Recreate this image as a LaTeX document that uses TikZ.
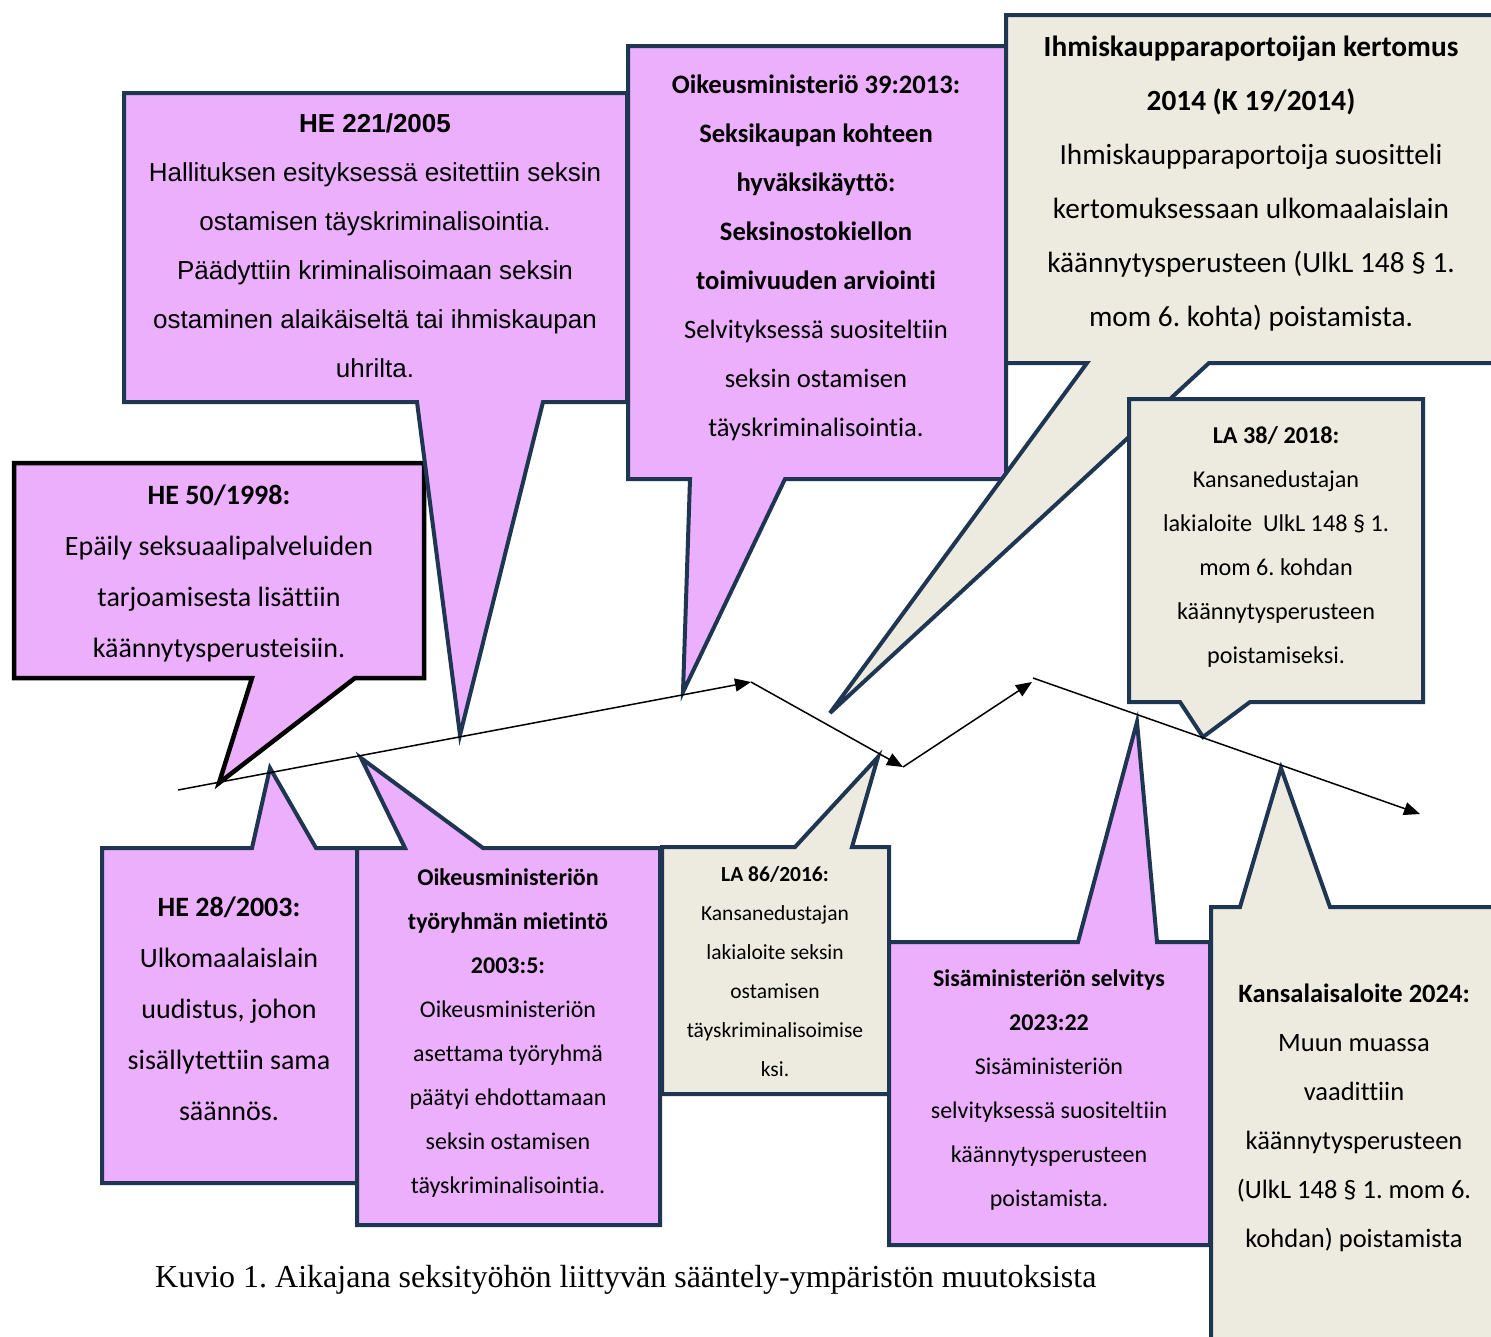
\documentclass[tikz,border=0pt]{standalone}
\usepackage{fontspec}
\setmainfont[Ligatures=NoCommon]{Carlito}
\newfontfamily\aptosfont{Liberation Sans}
\newfontfamily\capfont{Liberation Serif}
\usetikzlibrary{arrows.meta}
\definecolor{pinkc}{RGB}{235,175,252}
\definecolor{beigec}{RGB}{237,235,224}
\definecolor{navyc}{RGB}{31,54,82}
\newcommand{\setfs}[2]{\fontsize{#1pt}{#2pt}\selectfont}
\frenchspacing
\tikzset{
  pinkcallout/.style={fill=pinkc, draw=navyc, line width=4pt, line join=miter},
  beigecallout/.style={fill=beigec, draw=navyc, line width=4pt, line join=miter},
  blackcallout/.style={fill=pinkc, draw=black, line width=4.5pt, line join=miter},
  txt/.style={align=center, inner sep=0pt, text=black},
  tline/.style={draw=black, line width=1.5pt, -{Triangle[length=16pt,width=13pt]}},
}
\begin{document}
\begin{tikzpicture}[x=1pt,y=-1pt]
\useasboundingbox (0,0) rectangle (1491,1336);
\clip (0,0) rectangle (1491,1336);

% upper callouts
\draw[blackcallout] (14,463) -- (424,463) -- (424,678) -- (355,678) -- (219,783) -- (252,678) -- (14,678) -- cycle;
\draw[pinkcallout] (124,93) -- (627,93) -- (627,402) -- (543,402) -- (460,735) -- (417,402) -- (124,402) -- cycle;
\draw[pinkcallout] (628,46) -- (1006,46) -- (1006,479) -- (785,479) -- (683,692) -- (690,479) -- (628,479) -- cycle;
\draw[beigecallout] (1006,15) -- (1510,15) -- (1510,363) -- (1209,363) -- (830,713) -- (1087,363) -- (1006,363) -- cycle;
\draw[beigecallout] (1129,399) -- (1423,399) -- (1423,702) -- (1250,702) -- (1203,737) -- (1180,702) -- (1129,702) -- cycle;

% lower callouts
\draw[pinkcallout] (102,848) -- (252,848) -- (270,768) -- (316,848) -- (357,848) -- (357,1183) -- (102,1183) -- cycle;
\draw[pinkcallout] (357,848) -- (405,848) -- (361,758) -- (483,848) -- (660,848) -- (660,1225) -- (357,1225) -- cycle;
\draw[beigecallout] (662,847) -- (795,847) -- (878,757) -- (852,847) -- (889,847) -- (889,1094) -- (662,1094) -- cycle;
\draw[pinkcallout] (889,942) -- (1078,942) -- (1137,722) -- (1157,942) -- (1210,942) -- (1210,1245) -- (889,1245) -- cycle;
\draw[beigecallout] (1211,907) -- (1240,907) -- (1281,768) -- (1330,907) -- (1510,907) -- (1510,1350) -- (1211,1350) -- cycle;

% timeline
\coordinate (t0) at (178,790);
\coordinate (t1) at (751,682);
\coordinate (t2) at (903,767);
\coordinate (t3) at (1032,682);
\coordinate (t3b) at (1033,678);
\coordinate (t4) at (1420,814);
\draw[tline] (t0) -- (t1);
\draw[tline] (t1) -- (t2);
\draw[tline] (t2) -- (t3);
\draw[tline] (t3b) -- (t4);

% texts
\node[txt, font=\setfs{28}{51}] (he50) at (219,573) {\textbf{HE 50/1998:}\\Epäily seksuaalipalveluiden\\tarjoamisesta lisättiin\\käännytysperusteisiin.};
\node[txt, font=\aptosfont\setfs{26}{49}] (he221) at (375,246) {\textbf{HE 221/2005}\\Hallituksen esityksessä esitettiin seksin\\ostamisen täyskriminalisointia.\\Päädyttiin kriminalisoimaan seksin\\ostaminen alaikäiseltä tai ihmiskaupan\\uhrilta.};
\node[txt, font=\setfs{26.6}{49}] (om) at (816,258) {\textbf{Oikeusministeriö 39:2013:}\\\textbf{Seksikaupan kohteen}\\\textbf{hyväksikäyttö:}\\\textbf{Seksinostokiellon}\\\textbf{toimivuuden arviointi}\\Selvityksessä suositeltiin\\seksin ostamisen\\täyskriminalisointia.};
\node[txt, font=\setfs{29.3}{54}] (ihm) at (1251,184) {\textbf{Ihmiskaupparaportoijan kertomus}\\\textbf{2014 (K 19/2014)}\\Ihmiskaupparaportoija suositteli\\kertomuksessaan ulkomaalaislain\\käännytysperusteen (UlkL 148 § 1.\\mom 6. kohta) poistamista.};
\node[txt, font=\setfs{24.2}{44}] (la38) at (1276,547) {\textbf{LA 38/ 2018:}\\Kansanedustajan\\lakialoite\ \ UlkL 148 § 1.\\mom 6. kohdan\\käännytysperusteen\\poistamiseksi.};
\node[txt, font=\setfs{28}{51}] (he28) at (229,1009) {\textbf{HE 28/2003:}\\Ulkomaalaislain\\uudistus, johon\\sisällytettiin sama\\säännös.};
\node[txt, font=\setfs{24}{44}] (tyo) at (508,1033) {\textbf{Oikeusministeriön}\\\textbf{työryhmän mietintö}\\\textbf{2003:5:}\\Oikeusministeriön\\asettama työryhmä\\päätyi ehdottamaan\\seksin ostamisen\\täyskriminalisointia.};
\node[txt, font=\setfs{21.5}{39}] (la86) at (775,972) {\textbf{LA 86/2016:}\\Kansanedustajan\\lakialoite seksin\\ostamisen\\täyskriminalisoimise\\ksi.};
\node[txt, font=\setfs{24}{44}] (sm) at (1049,1090) {\textbf{Sisäministeriön selvitys}\\\textbf{2023:22}\\Sisäministeriön\\selvityksessä suositeltiin\\käännytysperusteen\\poistamista.};
\node[txt, font=\setfs{26.5}{49}] (ka) at (1354,1118) {\textbf{Kansalaisaloite 2024:}\\Muun muassa\\vaadittiin\\käännytysperusteen\\(UlkL 148 § 1. mom 6.\\kohdan) poistamista};

\node[anchor=base west, inner sep=0pt, font=\capfont\setfs{32}{38}] (cap) at (155,1287) {Kuvio 1. Aikajana seksityöhön liittyvän sääntely-ympäristön muutoksista};
\end{tikzpicture}
\end{document}
